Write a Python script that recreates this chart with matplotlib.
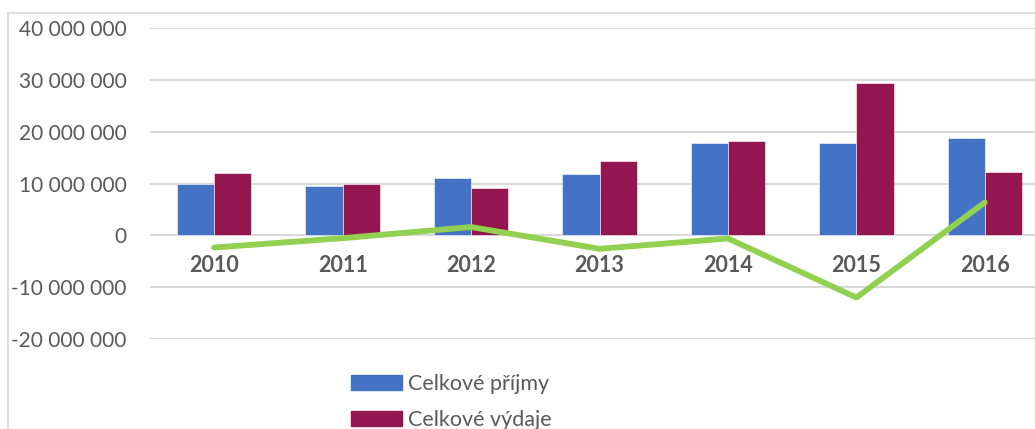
import matplotlib
matplotlib.use("Agg")
import matplotlib.pyplot as plt
import numpy as np
from matplotlib.lines import Line2D
from matplotlib.patches import Patch
from matplotlib.ticker import FuncFormatter

# data (Kč)
years = ["2010", "2011", "2012", "2013", "2014", "2015", "2016"]
prijmy = [9.85e6, 9.45e6, 11.0e6, 11.8e6, 17.8e6, 17.8e6, 18.75e6]
vydaje = [12.0e6, 9.85e6, 9.2e6, 14.4e6, 18.2e6, 29.4e6, 12.2e6]
saldo = [-2.35e6, -0.55e6, 1.6e6, -2.6e6, -0.6e6, -12.0e6, 6.35e6]
yticks = [-20e6, -10e6, 0, 10e6, 20e6, 30e6, 40e6]

BLUE = "#4472C4"
WINE = "#941651"
GREEN = "#92D050"
GRID = "#D9D9D9"
TXT = "#595959"

plt.rcParams["font.family"] = ["Lato", "DejaVu Sans"]

W, H = 1035, 429
fig = plt.figure(figsize=(W / 100, H / 100), dpi=100)
ax = fig.add_axes([150 / W, (H - 339) / H, 899 / W, 311 / H])

x = np.arange(len(years))
bw = 0.29
ax.bar(x - bw / 2, prijmy, bw, color=BLUE, edgecolor="white", linewidth=0.4, zorder=2)
ax.bar(x + bw / 2, vydaje, bw, color=WINE, edgecolor="white", linewidth=0.4, zorder=2)
ax.plot(x, saldo, color=GREEN, lw=4.2, solid_capstyle="round", zorder=3)

ax.set_xlim(-0.5, 6.5)
ax.set_ylim(-20e6, 40e6)
ax.set_yticks(yticks)
ax.yaxis.set_major_formatter(FuncFormatter(lambda v, p: f"{int(round(v)):,}".replace(",", " ")))
ax.grid(axis="y", color=GRID, lw=1.5, zorder=0)
ax.set_axisbelow(True)

for s in ax.spines.values():
    s.set_visible(False)
ax.spines["bottom"].set_position(("data", 0))

ax.set_xticks(x, years)
ax.tick_params(axis="x", length=0, pad=14, labelsize=15.5, labelcolor=TXT)
for t in ax.get_xticklabels():
    t.set_fontweight("bold")
ax.tick_params(axis="y", length=0, pad=17, labelsize=15, labelcolor=TXT)

# chart area border (only top and left visible)
fig.add_artist(Line2D([7.5 / W, 7.5 / W], [0, (H - 13) / H], color=GRID, lw=1.2))
fig.add_artist(Line2D([7.5 / W, 1], [(H - 13) / H, (H - 13) / H], color=GRID, lw=1.2))

handles = [Patch(color=BLUE), Patch(color=WINE)]
fig.legend(handles, ["Celkové příjmy", "Celkové výdaje"],
           loc="upper left", bbox_to_anchor=(351 / W, (H - 374) / H),
           frameon=False, fontsize=15.5, labelcolor=TXT,
           handlelength=2.35, handleheight=0.65, handletextpad=0.3,
           labelspacing=0.75, borderpad=0, borderaxespad=0)

fig.savefig("out.png", dpi=100)
